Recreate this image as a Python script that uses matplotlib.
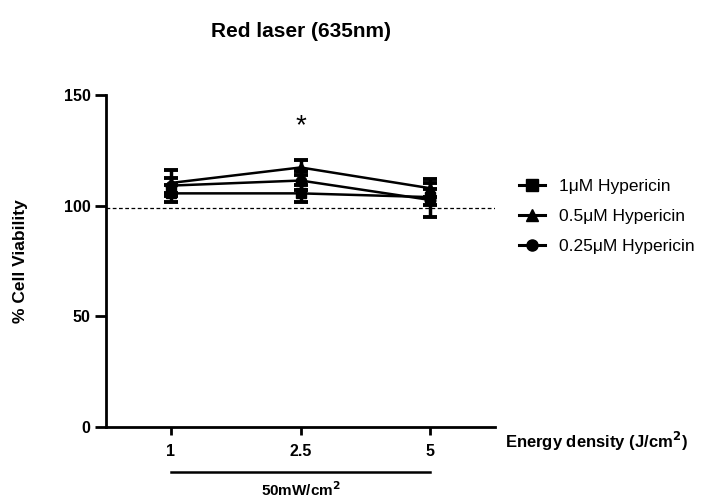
import matplotlib
matplotlib.use("Agg")
import matplotlib.pyplot as plt
from matplotlib.transforms import blended_transform_factory
from matplotlib.lines import Line2D

plt.rcParams['font.family'] = ['Liberation Sans', 'DejaVu Sans']

x_labels = ["1", "2.5", "5"]
series_names = ["1μM Hypericin", "0.5μM Hypericin", "0.25μM Hypericin"]
markers = ["s", "^", "o"]
values_1uM = [105.5, 105.5, 103.8]
errors_1uM = [4.0, 4.0, 3.5]
values_05uM = [110.2, 117.2, 107.8]
errors_05uM = [6.0, 3.2, 4.0]
values_025uM = [109.0, 111.3, 102.5]
errors_025uM = [3.5, 4.5, 7.5]
baseline = 99
star_y = 136

fig = plt.figure(figsize=(7.25, 4.98), dpi=100)
ax = fig.add_axes([0.1462, 0.1426, 0.537, 0.667])

xs = list(range(len(x_labels)))
handles = []
for vals, errs, m, name in zip([values_1uM, values_05uM, values_025uM],
                               [errors_1uM, errors_05uM, errors_025uM],
                               markers, series_names):
    ax.errorbar(xs, vals, yerr=errs, color='black', marker=m, markersize=7.5,
                linewidth=1.8, elinewidth=2.5, capsize=5, capthick=2.8)
    handles.append(Line2D([], [], color='black', marker=m, markersize=8,
                          linewidth=2.2, label=name))

ax.axhline(baseline, color='black', linestyle=(0, (3, 2)), linewidth=0.9)
ax.text(1, star_y, "*", ha='center', va='center', fontsize=20)

ax.set_xlim(-0.5, 2.5)
ax.set_ylim(0, 150)
ax.set_yticks([0, 50, 100, 150])
ax.set_xticks(xs)
ax.set_xticklabels(x_labels)
for lbl in ax.get_xticklabels() + ax.get_yticklabels():
    lbl.set_fontweight('bold')
    lbl.set_fontsize(11.5)
ax.spines['top'].set_visible(False)
ax.spines['right'].set_visible(False)
ax.spines['left'].set_linewidth(2)
ax.spines['bottom'].set_linewidth(2)
ax.tick_params(axis='y', direction='out', length=8, width=2, pad=3)
ax.tick_params(axis='x', direction='out', length=6, width=2, pad=6)

ax.set_ylabel("% Cell Viability", fontsize=12.5, fontweight='bold', labelpad=26)
fig.text(0.4145, 0.937, "Red laser (635nm)", ha='center', va='center',
         fontsize=15, fontweight='bold')

ax.text(1.026, -0.045, "Energy density (J/cm$^\\mathbf{2}$)", transform=ax.transAxes,
        ha='left', va='center', fontsize=12, fontweight='bold')

tr = blended_transform_factory(ax.transData, ax.transAxes)
ax.plot([0, 2], [-0.1355, -0.1355], transform=tr, color='black', linewidth=1.8, clip_on=False)
ax.text(1, -0.188, "50mW/cm$^\\mathbf{2}$", transform=tr, ha='center', va='center',
        fontsize=11, fontweight='bold')

leg = ax.legend(handles=handles, loc='center left', bbox_to_anchor=(1.02, 0.633),
                frameon=False, fontsize=12.5, handlelength=1.5, labelspacing=0.85)

fig.savefig("out.png", dpi=100)
